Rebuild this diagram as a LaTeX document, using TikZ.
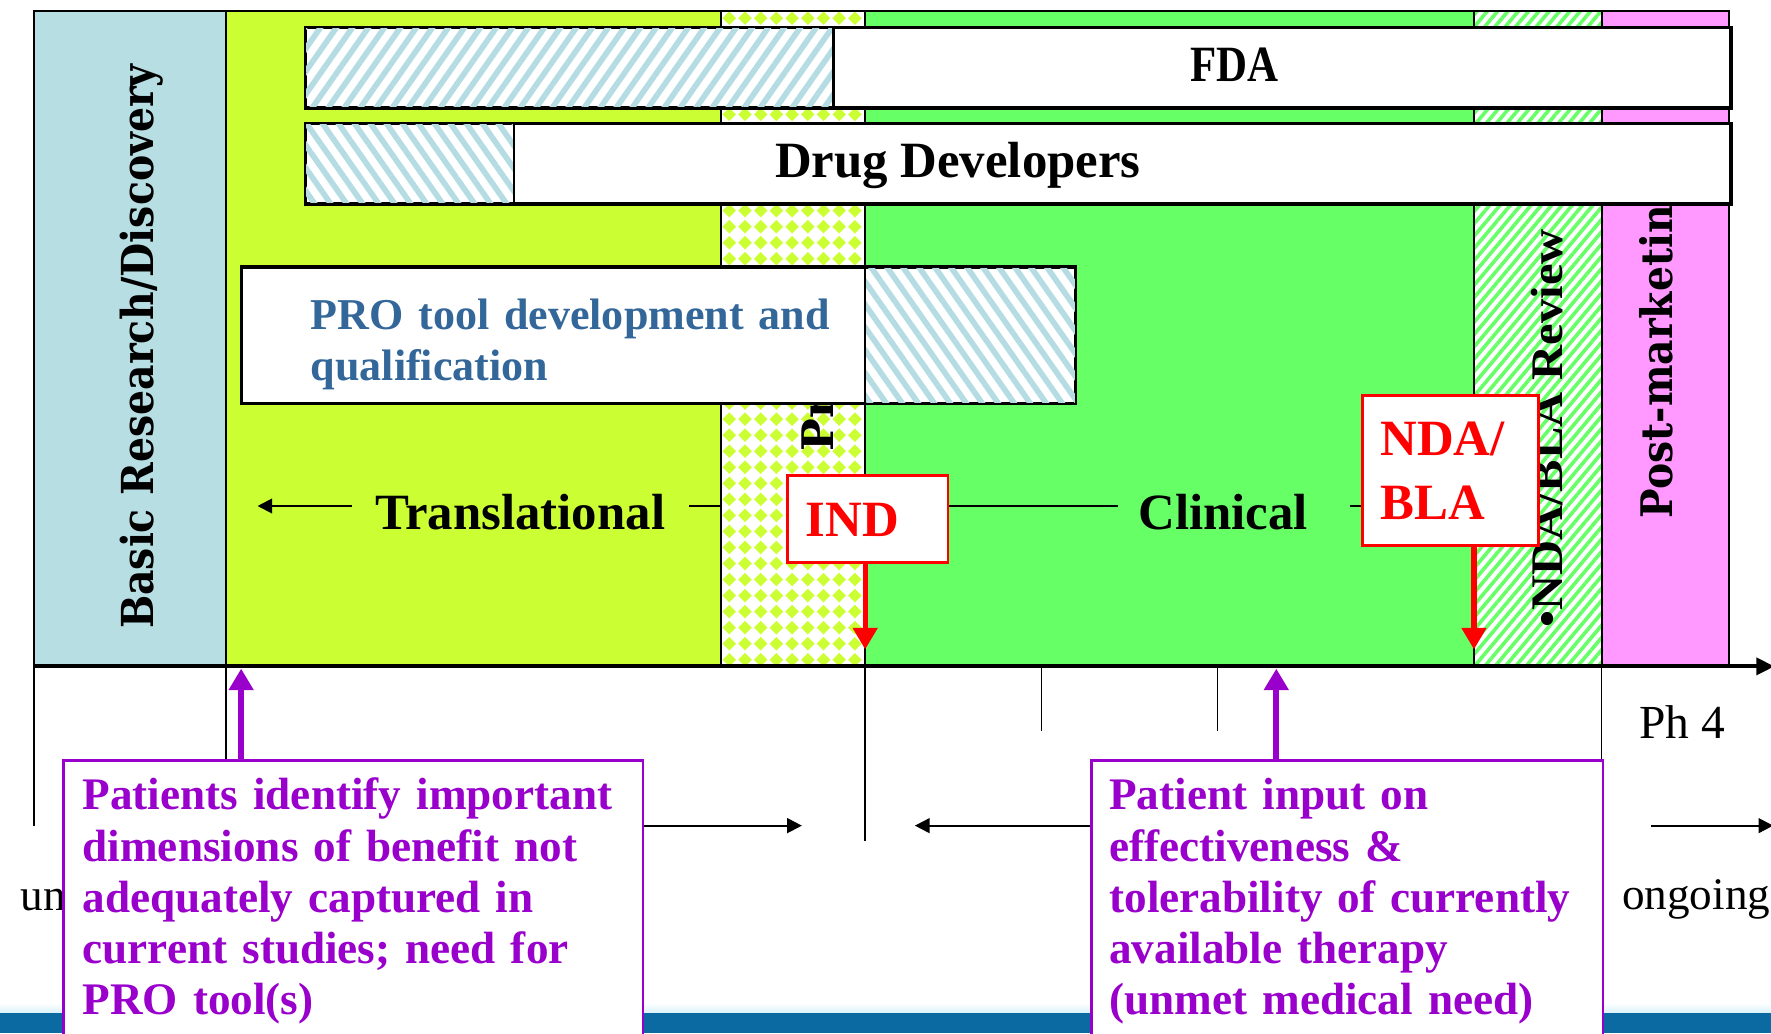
\documentclass[tikz,border=0pt]{standalone}
\usepackage{fontspec}
\setmainfont{Liberation Serif}
\newfontfamily\dvs{DejaVu Serif}
\usepackage{graphicx}
\usetikzlibrary{patterns.meta,arrows.meta}
\definecolor{basicblue}{HTML}{B7DEE3}
\definecolor{limec}{HTML}{CCFF33}
\definecolor{cgreen}{HTML}{66FF66}
\definecolor{pinkc}{HTML}{FF99FF}
\definecolor{hatchblue}{HTML}{B4DCE2}
\definecolor{probl}{HTML}{336699}
\definecolor{purp}{HTML}{9900CC}
\definecolor{footblue}{HTML}{0B6AA2}
\definecolor{footlight}{HTML}{D8F2F8}
\newcommand\setfs[1]{\fontsize{#1}{#1}\selectfont}
\begin{document}
\begin{tikzpicture}[x=1pt,y=-1pt,
  bord/.style={black,line width=1.8pt},
  whitebox/.style={draw=black,line width=2pt,fill=white,inner sep=0pt,anchor=north west},
  redbox/.style={draw=red,line width=2.5pt,fill=white,inner sep=0pt,anchor=north west},
  purplebox/.style={draw=purp,line width=2.5pt,fill=white,inner sep=0pt,anchor=north west},
  tick/.style={black,line width=1.5pt},
  axisline/.style={black,line width=3.5pt,-{Triangle[length=16pt,width=15pt]}},
  redarrow/.style={red,line width=4.5pt,-{Triangle[length=19pt,width=21pt]}},
  purparrow/.style={purp,line width=5.5pt,-{Triangle[length=19pt,width=21pt]}},
  blackarrow/.style={black,line width=1.8pt,-{Triangle[length=13pt,width=13pt]}},
  plainline/.style={black,line width=1.8pt},
  bluehatch/.style={pattern={Lines[angle=#1,distance=11.6pt,line width=5pt]},pattern color=hatchblue},
  bigtext/.style={font=\bfseries\setfs{45},inner sep=0pt},
  redtext/.style={font=\bfseries\fontsize{45}{57}\selectfont,text=red,inner sep=0pt},
  rottext/.style={rotate=90,anchor=base west,inner sep=0pt},
  purptext/.style={font=\bfseries\fontsize{40}{45.3}\selectfont,text=purp,inner sep=0pt,anchor=base west,text width=520pt,align=left},
  lowtext/.style={inner sep=0pt,anchor=base west}
]
\useasboundingbox (0,0) rectangle (1568,915);
\clip (0,0) rectangle (1568,915);
\fill[white] (0,0) rectangle (1568,915);
% footer band
\shade[top color=white,bottom color=footlight] (0,888) rectangle (1568,897);
\fill[footblue] (0,897) rectangle (1568,915);

% columns
\fill[basicblue] (30,10) rectangle (200,590);
\fill[limec] (200,10) rectangle (638,590);
\fill[white] (638,10) rectangle (766,590);
\begin{scope}
  \clip (638,10) rectangle (766,590);
  \foreach \i in {0,...,9}{
    \foreach \j in {0,...,41}{
      \fill[limec,shift={({645.7+13.9*\i},{16.1+14.2*\j})}] (-6,0) -- (0,-6) -- (6,0) -- (0,6) -- cycle;
    }
  }
\end{scope}
\fill[cgreen] (766,10) rectangle (1305,590);
\fill[white] (1305,10) rectangle (1418,590);
\fill[pattern={Lines[angle=50,distance=7pt,line width=3.2pt]},pattern color=cgreen] (1305,10) rectangle (1418,590);
\fill[pinkc] (1418,10) rectangle (1531,590);
\draw[bord] (30,590) -- (30,10) -- (1531,10) -- (1531,590);
\foreach \xx in {200,638,766,1305,1418}{ \draw[bord] (\xx,10) -- (\xx,590); }

% rotated column labels
\node[rottext,font=\dvs\bfseries\setfs{39}] (basic) at (136,557) {\resizebox{500pt}{\height}{Basic Research/Discovery}};
\node[rottext,font=\dvs\bfseries\setfs{38.5}] (pre) at (738,400) {Pr};
\node[rottext,font=\bfseries\setfs{40}] (review) at (1383,556) {\resizebox{353pt}{\height}{•NDA/BLA Review}};
\node[rottext,font=\dvs\bfseries\setfs{38.5}] (post) at (1481,459) {\resizebox{277pt}{\height}{Post-marketin}};

% FDA bar
\node[whitebox,minimum width=1261pt,minimum height=70pt] (fda) at (270,24) {};
\fill[bluehatch=55] (fda.north west) rectangle (738,94);
\draw[black,line width=2pt] (738,24) -- (738,94);
\draw[black,line width=2pt] (fda.north west) rectangle (fda.south east);
\node[bigtext,anchor=base] (fdalabel) at (1093,72) {\resizebox{78pt}{\height}{FDA}};

% Drug developers bar
\node[whitebox,minimum width=1261pt,minimum height=70pt] (dd) at (270,109) {};
\fill[bluehatch=-55] (dd.north west) rectangle (455,179);
\draw[black,line width=2pt] (455,109) -- (455,179);
\draw[black,line width=2pt] (dd.north west) rectangle (dd.south east);
\node[bigtext,anchor=base] (ddlabel) at (848,157) {Drug Developers};

% PRO box
\node[whitebox,minimum width=737pt,minimum height=119.5pt] (pro) at (213.5,236) {};
\fill[bluehatch=-55] (766,236) rectangle (pro.south east);
\draw[black,line width=2pt] (766,236) -- (766,355.5);
\draw[black,line width=2pt] (pro.north west) rectangle (pro.south east);
\node[font=\bfseries\fontsize{39}{44.5}\selectfont,text=probl,inner sep=0pt,anchor=base west,text width=480pt,align=left] (protext) at (275,292) {PRO tool development and\\qualification};

% Translational / Clinical
\coordinate (tl) at (228,448);
\node[bigtext,anchor=base west] (trans) at (332,469) {Translational};
\draw[blackarrow] ([xshift=-20pt]trans.west |- tl) -- (tl);
\draw[plainline] ([xshift=21pt]trans.east |- tl) -- (638,448);

% IND box
\node[redbox,minimum width=142pt,minimum height=77pt] (ind) at (696,420) {};
\node[redtext,anchor=base west] (indtext) at (713,474.6) {IND};
\coordinate (r1) at (766,575);
\draw[redarrow] (r1 |- ind.south) -- (r1);

% NDA box
\node[redbox,minimum width=156pt,minimum height=133pt] (nda) at (1205,349) {};
\node[redtext,anchor=base west,text width=130pt,align=left] (ndatext) at (1222,403) {NDA/\\BLA};
\coordinate (r2) at (1305,575);
\draw[redarrow] (r2 |- nda.south) -- (r2);

\node[bigtext,anchor=base] (clin) at (1083,469) {Clinical};
\draw[plainline] (ind.east |- tl) -- ([xshift=-18pt]clin.west |- tl);
\draw[plainline] ([xshift=37pt]clin.east |- tl) -- (nda.west |- tl);

% ticks below the axis
\draw[tick] (30,590) -- (30,731);
\draw[tick] (200,590) -- (200,672);
\draw[tick] (766,590) -- (766,745);
\draw[tick] (922,590) -- (922,647);
\draw[tick] (1078,590) -- (1078,647);
\draw[tick] (1418,590) -- (1418,672);

% axis
\coordinate (ax0) at (30,590);
\coordinate (ax1) at (1571,590);
\draw[axisline] (ax0) -- (ax1);

% lower labels
\node[lowtext,font=\setfs{42}] (ph4) at (1451,654) {Ph 4};
\node[lowtext,font=\setfs{40}] (ongoing) at (1436,805) {ongoing};
\node[lowtext,font=\setfs{40}] (un) at (18,806) {un};

% purple boxes
\node[purplebox,minimum width=513pt,minimum height=290pt] (box1) at (55,672) {};
\node[purplebox,minimum width=453pt,minimum height=290pt] (box2) at (965,672) {};
\node[purptext] (box1text) at (73,717) {Patients identify important\\dimensions of benefit not\\adequately captured in\\current studies; need for\\PRO tool(s)};
\node[purptext] (box2text) at (982,717) {Patient input on\\effectiveness \&\\tolerability of currently\\available therapy\\(unmet medical need)};

\coordinate (p1) at (213.5,592);
\draw[purparrow] (p1 |- box1.north) -- (p1);
\coordinate (p2) at (1130,592);
\draw[purparrow] (p2 |- box2.north) -- (p2);

% timeline arrows
\coordinate (a1) at (710,731);
\draw[blackarrow] (box1.east |- a1) -- (a1);
\coordinate (a2) at (810,731);
\draw[blackarrow] (box2.west |- a2) -- (a2);
\coordinate (a3s) at (1462,731);
\coordinate (a3) at (1570,731);
\draw[blackarrow] (a3s) -- (a3);
\end{tikzpicture}
\end{document}
